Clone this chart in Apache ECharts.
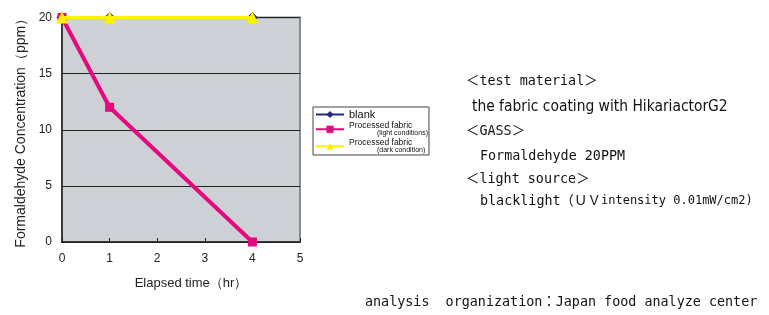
<!DOCTYPE html>
<html>
<head>
<meta charset="utf-8">
<script src="https://cdn.jsdelivr.net/npm/echarts@6/dist/echarts.min.js"></script>
<style>
  html, body { margin: 0; padding: 0; background: #fff; }
  #chart { width: 769px; height: 315px; }
</style>
</head>
<body>
<div id="chart"></div>
<script>
// data
const hours = [0, 1, 4];
const blankVals = [20, 20, 20];
const lightVals = [20, 12, 0];
const darkVals = [20, 20, 20];
const yTicks = [0, 5, 10, 15, 20];
const xTicks = [0, 1, 2, 3, 4, 5];

const monoFont = '13.4px "DejaVu Sans Mono", "Liberation Mono", "Noto Sans CJK JP", monospace';
const smallMono = '12px "DejaVu Sans Mono", "Liberation Mono", monospace';
const narrowFont = '15.4px "Liberation Sans Narrow", "DejaVu Sans Condensed", "Noto Sans CJK JP", sans-serif';
const noteLines = [
  { text: '＜test material＞', x: 466, y: 80, font: monoFont },
  { text: 'the fabric coating with HikariactorG2', x: 472, y: 104, font: narrowFont },
  { text: '＜GASS＞', x: 466, y: 130, font: monoFont },
  { text: 'Formaldehyde 20PPM', x: 480, y: 155, font: monoFont },
  { text: '＜light source＞', x: 466, y: 178, font: monoFont },
  { text: 'blacklight（ＵＶ', x: 480, y: 200, font: monoFont },
  { text: 'intensity 0.01mW/cm2)', x: 601, y: 200, font: smallMono },
  { text: 'analysis  organization：Japan food analyze center', x: 365, y: 301, font: monoFont }
];

const pairs = (vals) => hours.map((h, i) => [h, vals[i]]);

let MyEcharts = echarts.init(document.getElementById('chart'));

const legendNames = {
  'blank': '{a|blank}',
  'Processed fabric (light conditions)': '{b|Processed fabric}\n{c|(light conditions)}',
  'Processed fabric (dark condition)': '{b|Processed fabric}\n{c|(dark condition)}'
};

let option = {
  backgroundColor: '#fff',
  animation: false,
  textStyle: { fontFamily: 'Liberation Sans, Arial, sans-serif' },
  grid: {
    left: 62, top: 17.5, right: 469, bottom: 73,
    show: true,
    backgroundColor: '#cdd0d5',
    borderColor: '#8a8a8a',
    borderWidth: 2
  },
  legend: {
    orient: 'vertical',
    left: 313, top: 107,
    backgroundColor: '#fff',
    borderColor: '#444',
    borderWidth: 1,
    borderRadius: 0,
    padding: [2, 1, 1, 2],
    itemGap: 1,
    itemWidth: 28,
    itemHeight: 9,
    data: ['blank', 'Processed fabric (light conditions)', 'Processed fabric (dark condition)'],
    formatter: (name) => legendNames[name],
    textStyle: {
      color: '#111',
      rich: {
        a: { fontSize: 11, lineHeight: 12 },
        b: { fontSize: 8.5, lineHeight: 8.5 },
        c: { fontSize: 7, lineHeight: 7.5, padding: [0, 0, 0, 28] }
      }
    }
  },
  xAxis: {
    type: 'value',
    min: 0, max: 5, interval: 1,
    name: 'Elapsed time（hr）',
    nameLocation: 'middle',
    nameGap: 35,
    nameTextStyle: { color: '#222', fontSize: 13, padding: [0, 0, 0, 20] },
    axisLine: { show: true, lineStyle: { color: '#222', width: 1.5 } },
    axisTick: { show: true, inside: true, length: 4, lineStyle: { color: '#222' } },
    splitLine: { show: false },
    axisLabel: { color: '#222', fontSize: 12, margin: 11, formatter: (v) => xTicks.includes(v) ? String(v) : '' }
  },
  yAxis: {
    type: 'value',
    min: 0, max: 20, interval: 5,
    name: 'Formaldehyde Concentration（ppm）',
    nameLocation: 'middle',
    nameGap: 34,
    nameTextStyle: { color: '#222', fontSize: 14 },
    axisLine: { show: true, lineStyle: { color: '#222', width: 1.5 } },
    axisTick: { show: false },
    splitLine: { show: true, lineStyle: { color: '#222', width: 1 } },
    axisLabel: { color: '#222', fontSize: 12, margin: 10, formatter: (v) => yTicks.includes(v) ? String(v) : '' }
  },
  series: [
    {
      name: 'blank',
      type: 'line',
      data: pairs(blankVals),
      symbol: 'diamond',
      symbolSize: 11,
      itemStyle: { color: '#1f2a86' },
      lineStyle: { color: '#1f2a86', width: 3 },
      z: 2
    },
    {
      name: 'Processed fabric (light conditions)',
      type: 'line',
      data: pairs(lightVals),
      symbol: 'rect',
      symbolSize: 9,
      itemStyle: { color: '#e5097f' },
      lineStyle: { color: '#e5097f', width: 4 },
      z: 3
    },
    {
      name: 'Processed fabric (dark condition)',
      type: 'line',
      data: pairs(darkVals),
      symbol: 'triangle',
      symbolSize: 12,
      itemStyle: { color: '#fff200' },
      lineStyle: { color: '#fff200', width: 3 },
      z: 4
    }
  ],
  graphic: noteLines.map((n) => ({
    type: 'text',
    left: n.x,
    top: n.y - 5,
    style: {
      text: n.text,
      fill: '#111',
      font: n.font
    }
  }))
};

if (MyEcharts) {
  MyEcharts.setOption(option);
}
window.addEventListener('resize', () => {
  MyEcharts.resize();
});
</script>
</body>
</html>
